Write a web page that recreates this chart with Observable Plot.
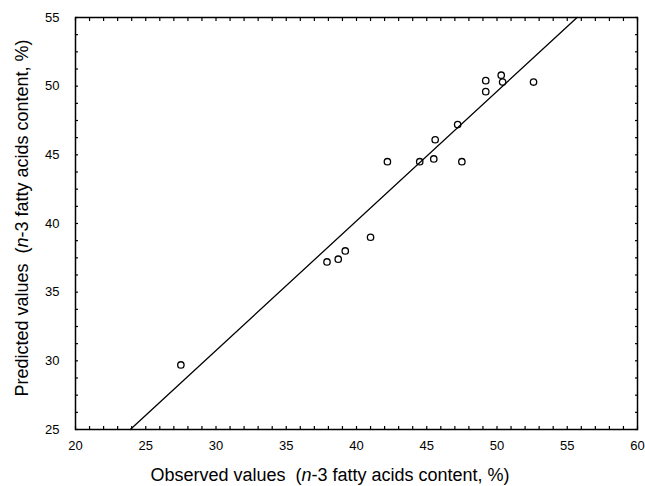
<!DOCTYPE html>
<html>
<head>
<meta charset="utf-8">
<script src="https://cdn.jsdelivr.net/npm/d3@7"></script>
<script src="https://cdn.jsdelivr.net/npm/@observablehq/plot@0.6"></script>
<style>
  html, body { margin: 0; padding: 0; background: #fff; }
  #chart { width: 645px; height: 486px; }
  svg { font-family: "Liberation Sans", Arial, sans-serif; }
</style>
</head>
<body>
<div id="chart"></div>
<script>
// Observed (x) and predicted (y) n-3 fatty acids content, %
const observed  = [27.5, 37.9, 38.7, 39.2, 41.0, 42.2, 44.5, 45.5, 45.6, 47.5, 47.2, 49.2, 49.2, 50.3, 50.4, 52.6];
const predicted = [29.7, 37.2, 37.4, 38.0, 39.0, 44.5, 44.5, 44.7, 46.1, 44.5, 47.2, 49.6, 50.4, 50.8, 50.3, 50.3];

// Regression line end points
const lineX = [23.9, 55.7];
const lineY = [25, 55];

const xTicks = [20, 25, 30, 35, 40, 45, 50, 55, 60];
const yTicks = [25, 30, 35, 40, 45, 50, 55];
const xMinor = d3.range(20, 61, 1);
const yMinor = d3.range(25, 56, 1.25);

const xTitleParts = ["Observed values  (", "n", "-3 fatty acids content, %)"];
const yTitleParts = ["Predicted values  (", "n", "-3 fatty acids content, %)"];

const points = observed.map((x, i) => ({x, y: predicted[i]}));
const line = lineX.map((x, i) => ({x, y: lineY[i]}));

const chart = Plot.plot({
  width: 645,
  height: 486,
  marginLeft: 75,
  marginRight: 8,
  marginTop: 17,
  marginBottom: 57,
  style: {fontFamily: '"Liberation Sans", Arial, sans-serif', fontSize: "13px", color: "#000", background: "#fff"},
  x: {domain: [20, 60]},
  y: {domain: [25, 55]},
  marks: [
    Plot.axisX(xMinor, {anchor: "bottom", tickSize: -3, text: null, label: null, strokeWidth: 1.2}),
    Plot.axisX(xMinor, {anchor: "top", tickSize: -3, text: null, label: null, strokeWidth: 1.2}),
    Plot.axisY(yMinor, {anchor: "left", tickSize: -3, text: null, label: null, strokeWidth: 1.2}),
    Plot.axisY(yMinor, {anchor: "right", tickSize: -3, text: null, label: null, strokeWidth: 1.2}),
    Plot.axisX(xTicks, {anchor: "bottom", tickSize: 0, tickPadding: 11, label: null, fontSize: 13, fill: "#000"}),
    Plot.axisY(yTicks, {anchor: "left", tickSize: 0, tickPadding: 16, label: null, fontSize: 13, fill: "#000"}),
    Plot.frame({stroke: "#000", strokeWidth: 1.5}),
    Plot.line(line, {x: "x", y: "y", stroke: "#000", strokeWidth: 1.3}),
    Plot.dot(points, {x: "x", y: "y", r: 3.2, stroke: "#000", strokeWidth: 1.3, fill: "none"})
  ]
});

document.getElementById("chart").append(chart);

const svg = d3.select(chart);
function addTitle(parts, x, y, rotate) {
  const t = svg.append("text")
    .attr("text-anchor", "middle")
    .attr("font-size", 18)
    .attr("fill", "#000")
    .attr("transform", rotate ? `translate(${x},${y}) rotate(-90)` : `translate(${x},${y})`);
  t.append("tspan").text(parts[0]);
  t.append("tspan").attr("font-style", "italic").text(parts[1]);
  t.append("tspan").text(parts[2]);
}
addTitle(xTitleParts, 330, 481, false);
addTitle(yTitleParts, 28, 218, true);
</script>
</body>
</html>
